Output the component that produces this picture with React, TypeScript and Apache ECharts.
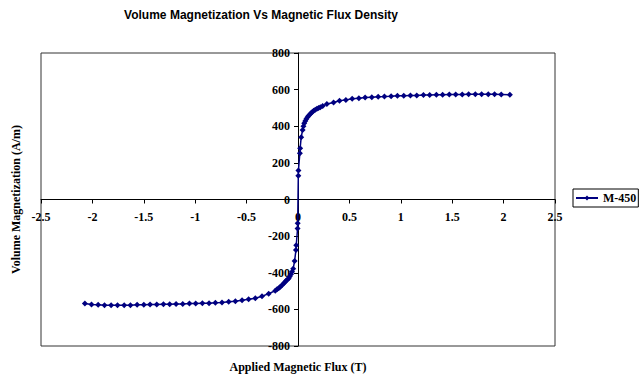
import React, { useEffect, useRef } from "react";
import * as echarts from "echarts";

const chartTitle = "Volume Magnetization Vs Magnetic Flux Density";
const xAxisTitle = "Applied Magnetic Flux (T)";
const yAxisTitle = "Volume Magnetization (A/m)";
const seriesName = "M-450";

const xMin = -2.5;
const xMax = 2.5;
const xStep = 0.5;
const yMin = -800;
const yMax = 800;
const yStep = 200;

// Applied magnetic flux density (T)
const appliedFlux = [
  -2.073, -2.009, -1.944, -1.882, -1.818, -1.756, -1.691, -1.63, -1.565, -1.5,
  -1.439, -1.374, -1.309, -1.248, -1.186, -1.121, -1.056, -0.995, -0.93, -0.865,
  -0.804, -0.739, -0.674, -0.609, -0.544, -0.48, -0.415, -0.35, -0.285, -0.221,
  -0.204, -0.188, -0.172, -0.156, -0.14, -0.126, -0.114, -0.102, -0.091, -0.08,
  -0.068, -0.058, -0.047, -0.033, -0.02, -0.017, -0.004, -0.003,
  0.003, 0.004, 0.018, 0.021, 0.031, 0.045, 0.053, 0.061, 0.071, 0.081,
  0.092, 0.103, 0.114, 0.126, 0.139, 0.152, 0.168, 0.184, 0.2, 0.217,
  0.24, 0.281, 0.346, 0.404, 0.466, 0.527, 0.592, 0.653, 0.718, 0.78,
  0.841, 0.906, 0.967, 1.029, 1.094, 1.155, 1.22, 1.281, 1.346, 1.407,
  1.472, 1.534, 1.598, 1.66, 1.725, 1.786, 1.851, 1.912, 1.977, 2.061,
];

// Volume magnetization (A/m)
const magnetization = [
  -568, -573, -575, -577, -577, -577, -577, -577, -575, -575,
  -573, -573, -572, -572, -570, -570, -568, -568, -566, -566,
  -564, -562, -559, -555, -550, -545, -539, -528, -514, -498,
  -490, -484, -477, -468, -459, -450, -443, -437, -431, -420,
  -408, -395, -378, -336, -276, -250, -158, -130,
  130, 158, 253, 280, 340, 380, 400, 417, 428, 439,
  449, 457, 464, 471, 478, 484, 490, 495, 500, 504,
  511, 521, 530, 539, 544, 550, 553, 557, 559, 561,
  562, 564, 566, 566, 568, 568, 570, 570, 572, 572,
  573, 573, 574, 575, 575, 575, 575, 575, 574, 572,
];

const serif = "'Liberation Serif', 'Times New Roman', serif";
const sans = "'Liberation Sans', Arial, sans-serif";
const navy = "#000080";

const gridLeft = 41;
const gridTop = 53;
const gridWidth = 514;
const gridHeight = 293;

export default function App() {
  const ref = useRef<HTMLDivElement>(null);

  useEffect(() => {
    if (!ref.current) return;
    const chart = echarts.init(ref.current, null, { renderer: "svg" });
    const data = appliedFlux.map((b, i) => [b, magnetization[i]]);
    const labelStyle = {
      fontFamily: serif,
      fontWeight: "bold" as const,
      fontSize: 12,
      color: "#000",
    };
    chart.setOption({
      animation: false,
      backgroundColor: "#fff",
      title: {
        text: chartTitle,
        left: 261,
        top: 9,
        padding: 0,
        textAlign: "center",
        textStyle: {
          fontFamily: sans,
          fontWeight: "bold",
          fontSize: 12,
          color: "#000",
        },
      },
      legend: {
        data: [seriesName],
        left: 573,
        top: 189,
        orient: "vertical",
        padding: [3, 2, 3, 2],
        borderColor: "#000",
        borderWidth: 1,
        itemWidth: 22,
        itemHeight: 6,
        textStyle: labelStyle,
      },
      grid: {
        left: gridLeft,
        top: gridTop,
        width: gridWidth,
        height: gridHeight,
        show: true,
        containLabel: false,
        outerBoundsMode: "none",
        borderColor: "#333",
        borderWidth: 1,
        backgroundColor: "#fff",
      },
      xAxis: {
        type: "value",
        min: xMin,
        max: xMax,
        interval: xStep,
        position: "bottom",
        offset: -gridHeight / 2,
        name: xAxisTitle,
        nameLocation: "middle",
        nameGap: 161,
        nameTextStyle: labelStyle,
        axisLine: { onZero: false, lineStyle: { color: "#000", width: 1 } },
        axisTick: { show: true, length: 4, lineStyle: { color: "#000" } },
        axisLabel: { ...labelStyle, margin: 11.5 },
        splitLine: { show: false },
      },
      yAxis: {
        type: "value",
        min: yMin,
        max: yMax,
        interval: yStep,
        position: "left",
        offset: -gridWidth / 2,
        name: yAxisTitle,
        nameLocation: "middle",
        nameGap: 276,
        nameTextStyle: labelStyle,
        axisLine: { onZero: false, lineStyle: { color: "#000", width: 1 } },
        axisTick: { show: true, length: 4, lineStyle: { color: "#000" } },
        axisLabel: { ...labelStyle, margin: 8 },
        splitLine: { show: false },
      },
      series: [
        {
          name: seriesName,
          type: "line",
          data,
          symbol: "diamond",
          symbolSize: 6,
          lineStyle: { color: navy, width: 1.5 },
          itemStyle: { color: navy },
        },
      ],
    });
    return () => chart.dispose();
  }, []);

  return (
    <div
      ref={ref}
      style={{
        position: "absolute",
        left: 0,
        top: 0,
        width: 641,
        height: 377,
        background: "#fff",
      }}
    />
  );
}
